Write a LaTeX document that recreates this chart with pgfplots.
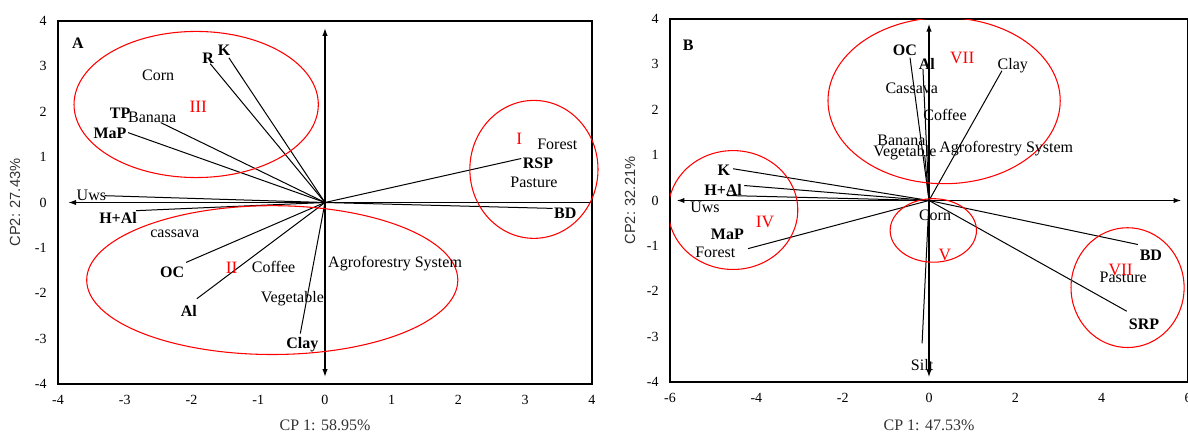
\documentclass[border=0pt]{standalone}
\usepackage{fontspec}
\setmainfont{Liberation Serif}
\newfontfamily\sansf{Liberation Sans}
\usepackage{pgfplots}
\pgfplotsset{compat=1.18}
\usetikzlibrary{arrows.meta}

\pgfplotsset{
  bip/.style={
    scale only axis,
    axis line style={line width=1.1pt},
    major tick length=0pt,
    /pgf/number format/assume math mode=true,
    ticklabel style={font=\fontsize{10.5}{12}\selectfont},
    xticklabel style={anchor=center, yshift=-12pt},
    yticklabel style={anchor=east, xshift=-5pt},
    ymin=-4, ymax=4, ytick={-4,-3,...,4},
    xlabel style={font=\fontsize{12}{14}\selectfont, anchor=center, text=black!80},
    ylabel style={font=\sansf\fontsize{11}{13}\selectfont, anchor=center, text=black!80},
  },
  vec/.style={black, line width=0.75pt, mark=none, forget plot},
  ax/.style={black, line width=1.1pt, mark=none, forget plot},
  lab/.style={only marks, mark=*, mark size=0pt, mark options={draw=none, fill=none},
    nodes near coords, point meta=explicit symbolic, nodes near coords align={center},
    every node near coord/.append style={anchor=center, inner sep=0pt, font=\fontsize{12}{14}\selectfont}},
  blab/.style={lab, every node near coord/.append style={font=\bfseries\fontsize{12}{14}\selectfont}},
  rlab/.style={lab, every node near coord/.append style={text=red, font=\fontsize{13}{15}\selectfont}},
}

\begin{document}
\begin{tikzpicture}
\useasboundingbox (0,0) rectangle (891pt,324pt);

% ---------------- Panel A ----------------
\begin{axis}[bip, at={(43.5pt,36pt)}, anchor=south west,
  width=400.5pt, height=272.25pt, clip=false,
  xmin=-4, xmax=4, xtick={-4,-3,...,4},
  xlabel={CP 1: 58.95\%}, ylabel={CP2: 27.43\%},
  xlabel style={at={(axis description cs:0.5,-0.113)}},
  ylabel style={at={(axis description cs:-0.0805,0.5)}},
]
% axes through origin
\addplot[ax, -{Latex[length=6pt,width=4pt]}] coordinates {(4,0) (-3.85,0)};
\addplot[ax, {Latex[length=6pt,width=4pt]}-{Latex[length=6pt,width=4pt]}] coordinates {(0,-3.85) (0,3.85)};
% vectors
\addplot[vec] coordinates {(0,0) (-1.44,3.19)};
\addplot[vec] coordinates {(0,0) (-1.72,3.06)};
\addplot[vec] coordinates {(0,0) (-2.46,1.76)};
\addplot[vec] coordinates {(0,0) (-2.95,1.54)};
\addplot[vec] coordinates {(0,0) (-3.30,0.15)};
\addplot[vec] coordinates {(0,0) (-2.83,-0.18)};
\addplot[vec] coordinates {(0,0) (-2.08,-1.32)};
\addplot[vec] coordinates {(0,0) (-1.92,-2.12)};
\addplot[vec] coordinates {(0,0) (-0.37,-2.89)};
\addplot[vec] coordinates {(0,0) (2.94,0.97)};
\addplot[vec] coordinates {(0,0) (3.41,-0.13)};
% groups
\draw[red, line width=0.8pt] (axis cs:-1.93,2.16) ellipse [x radius=1.83, y radius=1.61];
\draw[red, line width=0.8pt] (axis cs:-0.79,-1.71) ellipse [x radius=2.78, y radius=1.64];
\draw[red, line width=0.8pt] (axis cs:3.13,0.73) ellipse [x radius=0.96, y radius=1.52];
% labels
\addplot[blab] table[col sep=comma, meta=label] {
x,y,label
-3.70,3.50,A
-1.51,3.35,K
-1.75,3.17,R
-3.07,1.96,TP
-3.22,1.52,MaP
-3.10,-0.35,H+Al
-2.29,-1.54,OC
-2.04,-2.38,Al
-0.34,-3.13,Clay
3.19,0.86,RSP
3.60,-0.24,BD
};
\addplot[lab] table[col sep=comma, meta=label] {
x,y,label
-2.50,2.80,Corn
-2.59,1.87,Banana
-3.50,0.15,Uws
-2.25,-0.68,cassava
-0.77,-1.41,Coffee
-0.49,-2.11,Vegetable
1.05,-1.34,Agroforestry System
3.48,1.28,Forest
3.13,0.44,Pasture
};
\addplot[rlab] table[col sep=comma, meta=label] {
x,y,label
-1.90,2.11,III
-1.40,-1.43,II
2.91,1.41,I
};
\end{axis}

% ---------------- Panel B ----------------
\begin{axis}[bip, at={(502.5pt,37.5pt)}, anchor=south west,
  width=388.5pt, height=272.25pt,
  xmin=-6, xmax=6, xtick={-6,-4,...,6},
  xlabel={CP 1: 47.53\%}, ylabel={CP2: 32.21\%},
  xlabel style={at={(axis description cs:0.5,-0.118)}},
  ylabel style={at={(axis description cs:-0.0772,0.5)}},
]
\addplot[ax, {Latex[length=6pt,width=4pt]}-{Latex[length=6pt,width=4pt]}] coordinates {(-5.85,0) (5.85,0)};
\addplot[ax, {Latex[length=6pt,width=4pt]}-{Latex[length=6pt,width=4pt]}] coordinates {(0,-3.9) (0,3.9)};
% vectors
\addplot[vec] coordinates {(0,0) (-4.54,0.70)};
\addplot[vec] coordinates {(0,0) (-4.28,0.33)};
\addplot[vec] coordinates {(0,0) (-4.68,0.11)};
\addplot[vec] coordinates {(0,0) (-4.19,-1.06)};
\addplot[vec] coordinates {(0,0) (-0.44,3.15)};
\addplot[vec] coordinates {(0,0) (-0.14,2.90)};
\addplot[vec] coordinates {(0,0) (-0.10,1.00)};
\addplot[vec] coordinates {(0,0) (1.69,2.86)};
\addplot[vec] coordinates {(0,0) (4.84,-0.97)};
\addplot[vec] coordinates {(0,0) (4.58,-2.44)};
\addplot[vec] coordinates {(0,0) (-0.16,-3.15)};
% groups
\draw[red, line width=0.8pt] (axis cs:-4.54,-0.21) ellipse [x radius=1.50, y radius=1.31];
\draw[red, line width=0.8pt] (axis cs:0.35,2.20) ellipse [x radius=2.69, y radius=1.83];
\draw[red, line width=0.8pt] (axis cs:0.10,-0.66) ellipse [x radius=1.00, y radius=0.70];
\draw[red, line width=0.8pt] (axis cs:4.60,-1.92) ellipse [x radius=1.31, y radius=1.32];
% labels
\addplot[blab] table[col sep=comma, meta=label] {
x,y,label
-5.58,3.41,B
-4.75,0.66,K
-4.77,0.24,H+Al
-4.67,-0.75,MaP
-0.56,3.30,OC
-0.05,3.02,Al
5.14,-1.21,BD
4.98,-2.73,SRP
};
\addplot[lab] table[col sep=comma, meta=label] {
x,y,label
-5.19,-0.15,Uws
-4.95,-1.15,Forest
1.94,2.97,Clay
-0.40,2.47,Cassava
0.37,1.89,Coffee
-0.64,1.32,Banana
-0.56,1.06,Vegetable
1.79,1.15,Agroforestry System
0.14,-0.33,Corn
4.50,-1.70,Pasture
-0.16,-3.63,Silt
};
\addplot[rlab] table[col sep=comma, meta=label] {
x,y,label
-3.80,-0.48,IV
0.77,3.15,VII
0.37,-1.21,V
4.44,-1.52,VII
};
\end{axis}
\end{tikzpicture}
\end{document}
